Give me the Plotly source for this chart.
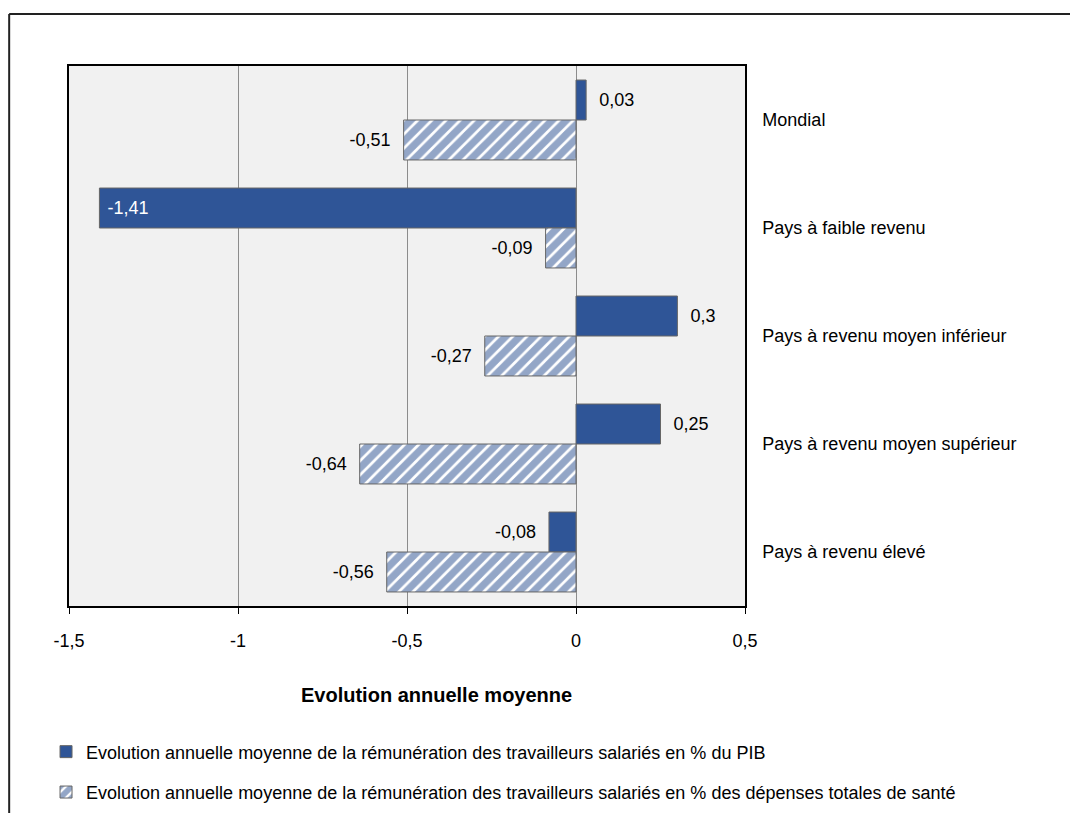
import plotly.graph_objects as go

categories = ["Mondial", "Pays à faible revenu", "Pays à revenu moyen inférieur",
              "Pays à revenu moyen supérieur", "Pays à revenu élevé"]
pib_values = [0.03, -1.41, 0.3, 0.25, -0.08]
sante_values = [-0.51, -0.09, -0.27, -0.64, -0.56]
series_names = [
    "Evolution annuelle moyenne de la rémunération des travailleurs salariés en % du PIB",
    "Evolution annuelle moyenne de la rémunération des travailleurs salariés en % des dépenses totales de santé",
]
tick_vals = [-1.5, -1, -0.5, 0, 0.5]
tick_text = ["-1,5", "-1", "-0,5", "0", "0,5"]
axis_title = "Evolution annuelle moyenne"

BLUE = "#2F5597"
FONT = "Liberation Sans, Arial, sans-serif"
FS = 18
NB = "\u00a0"


def fmt(v):
    return str(v).replace(".", ",")


def label(v, inside=False):
    s = fmt(v)
    if inside:
        return NB + s
    return (NB * 2 + s) if v >= 0 else (s + NB * 2)


pib_pos = ["inside" if v < -1.2 else "outside" for v in pib_values]
pib_text = [label(v, p == "inside") for v, p in zip(pib_values, pib_pos)]
sante_text = [label(v) for v in sante_values]

fig = go.Figure()
fig.add_trace(go.Bar(
    y=categories, x=pib_values, orientation="h", name=series_names[0],
    marker=dict(color=BLUE, line=dict(color="#666666", width=1)),
    text=pib_text, textposition=pib_pos, insidetextanchor="end",
    insidetextfont=dict(color="white", size=FS, family=FONT),
    outsidetextfont=dict(color="black", size=FS, family=FONT),
    constraintext="none", cliponaxis=False, legendgroup="a",
))
fig.add_trace(go.Bar(
    y=categories, x=sante_values, orientation="h", name=series_names[1],
    marker=dict(color="white", line=dict(color="#666666", width=1),
                pattern=dict(shape="/", fgcolor="#284D8F", bgcolor="white",
                             size=10, solidity=0.72)),
    text=sante_text, textposition="outside",
    outsidetextfont=dict(color="black", size=FS, family=FONT),
    constraintext="none", cliponaxis=False, legendgroup="b",
))

fig.update_layout(
    width=1070, height=813,
    margin=dict(l=69, r=325, t=66, b=207, autoexpand=False),
    paper_bgcolor="white", plot_bgcolor="#F1F1F1",
    font=dict(family=FONT, size=FS, color="black"),
    barmode="group", bargap=0.26, bargroupgap=0,
    separators=", ",
    showlegend=True,
    legend=dict(orientation="v", x=-0.034, xanchor="left", y=-0.236, yanchor="top",
                traceorder="grouped", tracegroupgap=14, itemwidth=30,
                font=dict(size=FS, family=FONT), bgcolor="rgba(0,0,0,0)"),
    annotations=[dict(text="<b>" + axis_title + "</b>", xref="paper", yref="paper",
                      x=0.544, y=-0.165, xanchor="center", yanchor="middle",
                      showarrow=False, font=dict(size=20, family=FONT))],
    shapes=[
        dict(type="line", xref="paper", yref="paper", x0=-0.0885, x1=-0.0885,
             y0=1.0963, y1=-0.5, line=dict(color="#222222", width=2)),
        dict(type="line", xref="paper", yref="paper", x0=-0.0885, x1=1.6,
             y0=1.0963, y1=1.0963, line=dict(color="#222222", width=2)),
    ],
)
fig.update_xaxes(range=[-1.5, 0.5], tickvals=tick_vals, ticktext=tick_text,
                 showgrid=True, gridcolor="#8C8C8C", gridwidth=1,
                 zeroline=True, zerolinecolor="#8C8C8C", zerolinewidth=1,
                 showline=True, linecolor="black", linewidth=1.5, mirror=True,
                 ticks="outside", ticklen=6, tickcolor="black",
                 ticklabelstandoff=12, tickfont=dict(size=FS))
fig.update_yaxes(categoryorder="array", categoryarray=categories,
                 autorange="reversed", side="right", showgrid=False,
                 zeroline=False, showline=True, linecolor="black", linewidth=1.5,
                 mirror=True, ticks="", ticklabelstandoff=12, tickfont=dict(size=FS))

fig.write_html("out.html")
